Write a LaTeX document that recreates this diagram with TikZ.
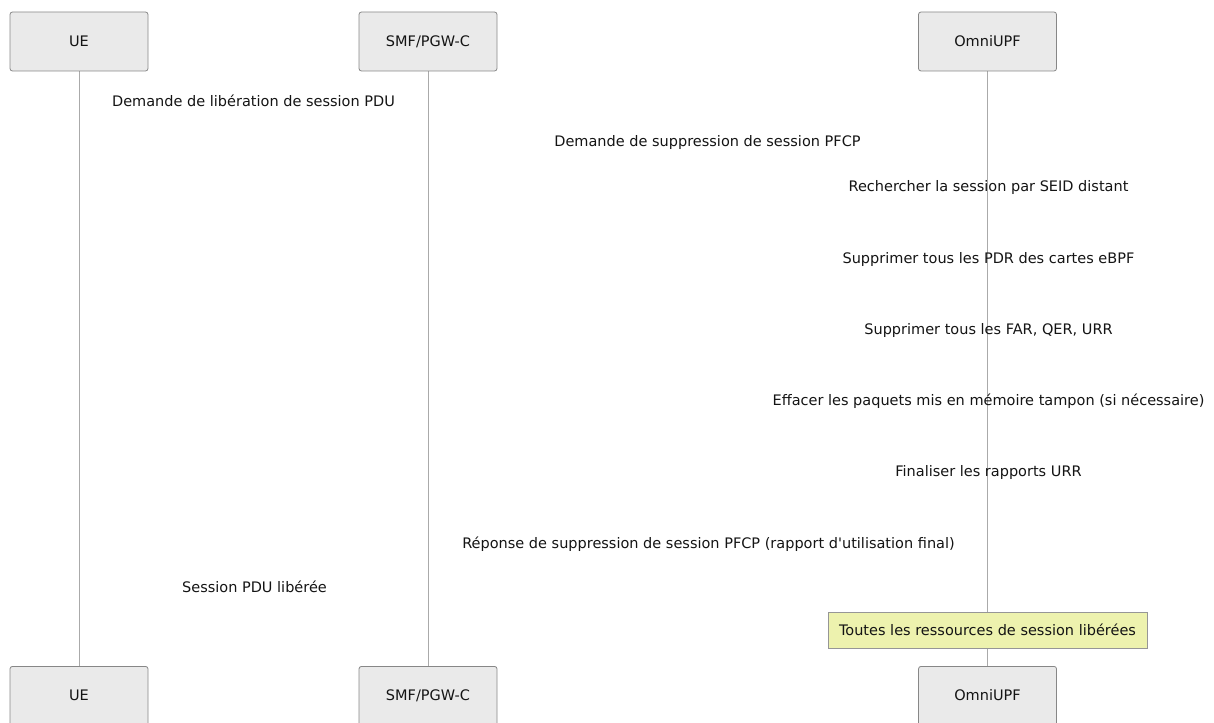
\documentclass[tikz,border=0pt]{standalone}
\usepackage{fontspec}
\setmainfont{DejaVu Sans}[Ligatures=TeXOff]
\definecolor{actorfill}{RGB}{234,234,234}
\definecolor{actordraw}{RGB}{135,135,135}
\definecolor{lifeline}{RGB}{170,170,170}
\definecolor{notefill}{RGB}{237,242,174}
\definecolor{notedraw}{RGB}{150,150,150}
\definecolor{txt}{RGB}{20,20,20}
\tikzset{
  actor/.style={draw=actordraw, fill=actorfill, rounded corners=2.5pt, line width=0.8pt,
    minimum width=138pt, minimum height=59pt, inner sep=0pt, text=txt,
    font=\fontsize{14.5}{17}\selectfont},
  life/.style={draw=lifeline, line width=1pt},
  msg/.style={text=txt, inner sep=0pt, font=\fontsize{14.5}{17}\selectfont},
  notebox/.style={draw=notedraw, fill=notefill, line width=0.8pt, inner sep=0pt,
    minimum width=319pt, minimum height=36pt, text=txt, font=\fontsize{14.5}{17}\selectfont}
}
\begin{document}
\begin{tikzpicture}[x=1pt,y=-1pt]
\useasboundingbox (0,0) rectangle (1214,722);
% lifelines (drawn first)
\coordinate (ueT) at (79,71);   \coordinate (ueB) at (79,666);
\coordinate (smfT) at (428,71); \coordinate (smfB) at (428,666);
\coordinate (upfT) at (987.5,71); \coordinate (upfB) at (987.5,666);
\draw[life] (ueT) -- (ueB);
\draw[life] (smfT) -- (smfB);
\draw[life] (upfT) -- (upfB);
% actors top
\node[actor] (ue1) at (79,41.5) {UE};
\node[actor] (smf1) at (428,41.5) {SMF/PGW-C};
\node[actor] (upf1) at (987.5,41.5) {OmniUPF};
% actors bottom
\node[actor, anchor=north] (ue2) at (79,666) {};
\node[actor, anchor=north] (smf2) at (428,666) {};
\node[actor, anchor=north] (upf2) at (987.5,666) {};
\node[msg] (ue2t) at (79,695.5) {UE};
\node[msg] (smf2t) at (428,695.5) {SMF/PGW-C};
\node[msg] (upf2t) at (987.5,695.5) {OmniUPF};
% messages
\node[msg] (m1) at (253.5,101) {Demande de libération de session PDU};
\node[msg] (m2) at (707.5,143) {Demande de suppression de session PFCP};
\node[msg] (m3) at (988.5,187) {Rechercher la session par SEID distant};
\node[msg] (m4) at (988.5,259) {Supprimer tous les PDR des cartes eBPF};
\node[msg] (m5) at (988.5,330) {Supprimer tous les FAR, QER, URR};
\node[msg] (m6) at (988.5,401) {Effacer les paquets mis en mémoire tampon (si nécessaire)};
\node[msg] (m7) at (988.5,472) {Finaliser les rapports URR};
\node[msg] (m8) at (708.5,544) {Réponse de suppression de session PFCP (rapport d'utilisation final)};
\node[msg] (m9) at (254.5,587) {Session PDU libérée};
% note
\node[notebox] (note) at (987.5,630) {Toutes les ressources de session libérées};
\end{tikzpicture}
\end{document}
